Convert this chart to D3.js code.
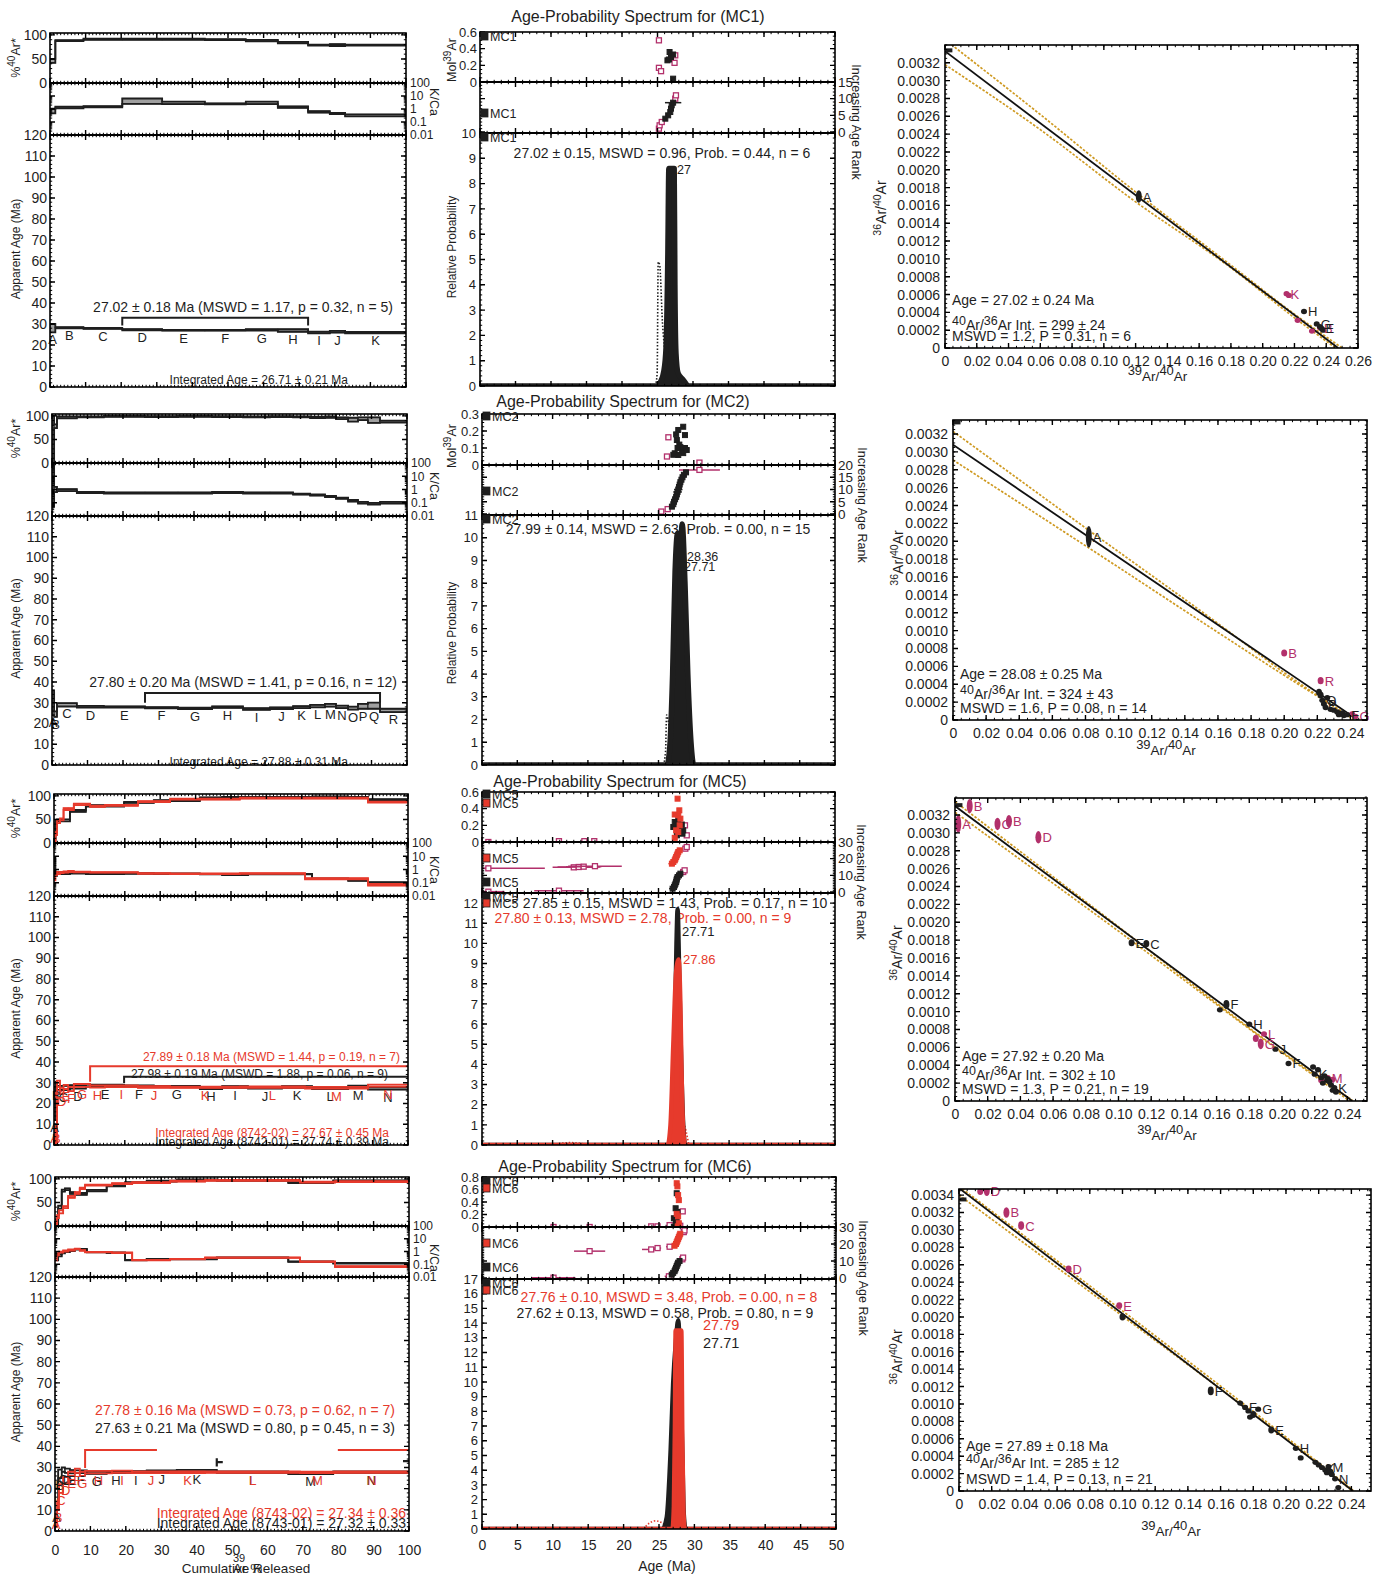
<!DOCTYPE html>
<html>
<head>
<meta charset="utf-8">
<title>40Ar/39Ar step-heating spectra, age-probability plots and inverse isochrons</title>
<script src="https://cdn.jsdelivr.net/npm/d3@7"></script>
<style>
  html, body { margin: 0; padding: 0; background: #fff; }
  svg { display: block; font-family: "Liberation Sans", Arial, Helvetica, sans-serif; }
</style>
</head>
<body>
<svg id="chart" width="1400" height="1580"></svg>
<script>
// ================= STEP-HEATING DATA (cumulative 39Ar %, apparent age, %40Ar*, K/Ca) =================
// MC1
const mc1Pct = [0, 1.5, 9.4, 20.3, 31.5, 43.5, 55, 64, 72.5, 78.6, 82.9, 100];
const mc1Steps = ["A","B","C","D","E","F","G","H","I","J","K"];
const mc1Age = [28.0, 28.2, 27.9, 27.3, 27.0, 27.0, 27.2, 26.9, 25.9, 26.3, 25.9];
const mc1AgeErr = [2.0, 0.3, 0.25, 0.3, 0.2, 0.2, 0.3, 0.6, 0.4, 0.4, 0.3];
const mc1Rad = [46, 88, 91, 91, 91, 90, 88, 84, 79, 79, 79];
const mc1RadErr = [4, 1, 1, 1, 1, 1, 1.5, 1.5, 1, 2, 1];
const mc1KCa = [0.7, 1.3, 1.5, 4, 3, 2.5, 3, 1.4, 0.6, 0.45, 0.32];
const mc1KCaErr = [1.5, 1.15, 1.1, 1.6, 1.25, 1.1, 1.25, 1.15, 1.15, 1.1, 1.2];
const mc1Plateau = [20.3, 72.5];
const mc1PlateauText = ["27.02 ± 0.18 Ma (MSWD = 1.17, p = 0.32, n = 5)"];
const mc1IntegratedText = ["Integrated Age = 26.71 ± 0.21 Ma"];

// MC2
const mc2Pct = [0, 0.6, 1.4, 7.0, 14.6, 26.2, 35.5, 45.1, 53.8, 61.4, 67.9, 72.7, 76.9, 80.0, 83.4, 86.2, 89.0, 92.4, 100];
const mc2Steps = ["A","B","C","D","E","F","G","H","I","J","K","L","M","N","O","P","Q","R"];
const mc2Age = [30, 24.5, 29.0, 28.1, 28.0, 27.6, 27.3, 27.9, 27.0, 27.4, 27.9, 28.4, 28.8, 28.0, 27.4, 28.3, 28.6, 26.3];
const mc2AgeErr = [6, 1.3, 0.8, 0.4, 0.3, 0.3, 0.3, 0.4, 0.4, 0.4, 0.5, 0.6, 0.7, 0.6, 0.7, 1.2, 1.5, 0.8];
const mc2Rad = [50, 78, 97, 98, 99, 98.5, 99, 98.5, 98, 98.5, 98, 97, 97.5, 95, 92, 94, 91, 88];
const mc2RadErr = [50, 4, 2, 1, 1, 1, 1, 1, 1, 1, 1, 1.5, 1.5, 2, 4, 3, 6, 2];
const mc2KCa = [5, 1.0, 0.9, 0.6, 0.55, 0.55, 0.55, 0.6, 0.55, 0.55, 0.45, 0.38, 0.3, 0.22, 0.14, 0.1, 0.085, 0.1];
const mc2KCaErr = [100, 1.6, 1.2, 1.1, 1.1, 1.1, 1.1, 1.1, 1.1, 1.1, 1.1, 1.1, 1.1, 1.1, 1.15, 1.15, 1.15, 1.15];
const mc2Plateau = [26.2, 92.4];
const mc2PlateauText = ["27.80 ± 0.20 Ma (MSWD = 1.41, p = 0.16, n = 12)"];
const mc2IntegratedText = ["Integrated Age = 27.88 ± 0.31 Ma"];

// MC5: aliquots 8742-01 and 8742-02
const mc5aPct = [0, 0.4, 0.85, 4.5, 9.0, 19.8, 28.2, 41.2, 47.5, 54.8, 64.4, 72.9, 83.1, 88.7, 100];
const mc5aSteps = ["A","B","C","D","E","F","G","H","I","J","K","L","M","N"];
const mc5aAge = [20, 29, 27.5, 28.0, 28.6, 28.3, 28.2, 27.4, 28.0, 27.6, 28.0, 27.3, 28.0, 27.2];
const mc5aAgeErr = [8, 1.5, 1, 0.8, 0.5, 0.4, 0.3, 0.4, 0.4, 0.4, 0.4, 0.4, 0.6, 0.5];
const mc5aRad = [5, 45, 48, 68, 79, 86, 90, 96, 97, 97, 97, 98, 97, 92];
const mc5aRadErr = [3, 3, 2, 2, 1.5, 1, 1, 1, 1, 1, 1, 1, 1, 1];
const mc5aKCa = [2, 0.4, 0.5, 0.55, 0.5, 0.5, 0.48, 0.45, 0.4, 0.45, 0.45, 0.2, 0.15, 0.1];
const mc5aKCaErr = [3, 1.2, 1.1, 1.1, 1.1, 1.05, 1.05, 1.05, 1.05, 1.05, 1.05, 1.05, 1.1, 1.1];
const mc5bPct = [0, 0.4, 0.85, 1.7, 2.7, 4.0, 5.6, 10.2, 14.4, 23.7, 32.8, 52.5, 70.9, 88.7, 100];
const mc5bSteps = ["A","B","C","D","E","F","G","H","I","J","K","L","M","N"];
const mc5bAge = [5, 2, 29.5, 26, 28, 27, 28.7, 28.2, 28.3, 28.0, 27.8, 27.9, 27.6, 28.6];
const mc5bAgeErr = [4, 2, 1.5, 1.5, 1, 1, 0.7, 0.5, 0.4, 0.4, 0.3, 0.3, 0.4, 0.5];
const mc5bRad = [2, 20, 45, 50, 72, 72, 82, 78, 80, 88, 93, 95, 95, 87];
const mc5bRadErr = [2, 3, 3, 2, 2, 2, 1.5, 1.5, 1, 1, 1, 1, 1, 1];
const mc5bKCa = [0.3, 0.5, 0.55, 0.6, 0.65, 0.7, 0.65, 0.6, 0.6, 0.5, 0.48, 0.5, 0.2, 0.07];
const mc5bKCaErr = [2, 1.3, 1.2, 1.1, 1.1, 1.1, 1.05, 1.05, 1.05, 1.05, 1.05, 1.05, 1.1, 1.15];
const mc5aPlateau = [19.8, 100];
const mc5bPlateau = [10.2, 100];
const mc5PlateauText = ["27.89 ± 0.18 Ma (MSWD = 1.44, p = 0.19, n = 7)", "27.98 ± 0.19 Ma (MSWD = 1.88, p = 0.06, n = 9)"];
const mc5IntegratedText = ["Integrated Age (8742-02) = 27.67 ± 0.45 Ma", "Integrated Age (8742-01) = 27.74 ± 0.39 Ma"];

// MC6: aliquots 8743-01 and 8743-02
const mc6aPct = [0, 0.9, 1.9, 2.8, 4.2, 5.6, 9.0, 14.6, 19.8, 25.9, 34.4, 45.7, 65.9, 78.6, 100];
const mc6aSteps = ["A","B","C","D","E","F","G","H","I","J","K","L","M","N"];
const mc6aAge = [15, 27, 29, 28.5, 28, 28, 27.5, 27.8, 27.9, 28.2, 28.5, 27.8, 27.2, 27.8];
const mc6aAgeErr = [5, 2, 1, 1, 0.8, 0.6, 0.5, 0.4, 0.4, 0.4, 0.4, 0.3, 0.3, 0.3];
const mc6aRad = [10, 40, 75, 78, 70, 68, 75, 85, 92, 95, 98, 97, 92, 96];
const mc6aRadErr = [4, 3, 2, 2, 2, 2, 1.5, 1, 1, 1, 1, 1, 1, 1];
const mc6aKCa = [0.3, 0.5, 0.8, 1.0, 1.2, 1.5, 0.9, 0.8, 0.21, 0.25, 0.25, 0.33, 0.16, 0.12];
const mc6aKCaErr = [1.5, 1.2, 1.1, 1.1, 1.1, 1.05, 1.05, 1.05, 1.05, 1.05, 1.05, 1.05, 1.05, 1.05];
const mc6bPct = [0, 0.6, 1.1, 2.3, 3.7, 5.6, 7.0, 8.5, 16.1, 21.8, 32.5, 42.4, 69.2, 79.1, 100];
const mc6bSteps = ["A","B","C","D","E","F","G","H","I","J","K","L","M","N"];
const mc6bAge = [5, 12, 20, 24, 27, 28.5, 27, 27.8, 28, 27.7, 27.8, 27.8, 27.7, 27.8];
const mc6bAgeErr = [3, 2, 2, 1.5, 1, 1, 1, 0.6, 0.5, 0.4, 0.4, 0.3, 0.3, 0.3];
const mc6bRad = [5, 20, 30, 40, 62, 70, 80, 87, 90, 92, 95, 97, 93, 94];
const mc6bRadErr = [3, 3, 3, 2, 2, 2, 1.5, 1, 1, 1, 1, 1, 1, 1];
const mc6bKCa = [0.3, 0.6, 0.9, 1.1, 1.3, 1.6, 1.2, 0.9, 0.8, 0.21, 0.25, 0.33, 0.16, 0.065];
const mc6bKCaErr = [1.5, 1.2, 1.1, 1.1, 1.1, 1.05, 1.05, 1.05, 1.05, 1.05, 1.05, 1.05, 1.05, 1.1];
const mc6aPlateau = [45.7, 100];
const mc6bPlateau = [8.5, 100];
const mc6PlateauText = ["27.78 ± 0.16 Ma (MSWD = 0.73, p = 0.62, n = 7)", "27.63 ± 0.21 Ma (MSWD = 0.80, p = 0.45, n = 3)"];
const mc6IntegratedText = ["Integrated Age (8743-02) = 27.34 ± 0.36", "Integrated Age (8743-01) = 27.32 ± 0.33"];

// ================= SINGLE-CRYSTAL FUSION DATA =================
// moles 39Ar: [age Ma, mol]; rank: [age Ma, rank, 1σ]; probability: [age Ma, relative probability]
const mc1Title = "Age-Probability Spectrum for (MC1)";
const mc1MolIn = [[26.4,0.26],[26.6,0.27],[26.7,0.36],[26.9,0.30],[27.2,0.33],[27.2,0.04]];
const mc1MolOut = [[25.2,0.50],[25.2,0.17],[25.5,0.13],[27.5,0.32],[27.4,0.23]];
const mc1RankIn = [[26.1,4,0.15],[26.5,5,0.15],[26.8,6,0.15],[26.9,7,0.2],[27.0,8,0.2],[27.2,8.8,1.15]];
const mc1RankOut = [[25.2,1,0.2],[25.3,2,0.2],[25.6,3,0.2],[27.5,10,0.2],[27.6,11,0.2]];
const mc1Prob = [[0,0],[24.9,0],[25.4,0.15],[25.9,0.6],[26.2,1.5],[26.45,5],[26.6,8.6],[27.0,8.6],[27.35,8.6],[27.45,4],[27.6,1.3],[27.9,0.5],[28.6,0.25],[29.4,0],[50,0]];
const mc1ProbAll = [[24.7,0],[24.95,0.5],[25.1,4.9],[25.3,4.8],[25.7,2.5],[26.2,1.0]];
const mc1StatText = ["27.02 ± 0.15, MSWD = 0.96, Prob. = 0.44, n = 6"];
const mc1PeakText = ["27"];

const mc2Title = "Age-Probability Spectrum for (MC2)";
const mc2MolIn = [[28.5,0.225],[27.8,0.206],[27.5,0.18],[28.75,0.176],[27.6,0.147],[27.95,0.12],[28.75,0.10],[28.3,0.088],[27.3,0.069],[27.8,0.059],[28.5,0.07],[29.0,0.088],[27.1,0.06],[28.1,0.105],[27.7,0.10]];
const mc2MolOut = [[26.4,0.163],[26.2,0.05],[30.8,0.014]];
const mc2RankIn = [[26.9,3,0.2],[27.1,4,0.2],[27.2,5,0.2],[27.35,6,0.2],[27.5,7,0.25],[27.6,8,0.25],[27.7,9,0.6],[27.8,10,0.6],[27.9,11,0.25],[28.0,12,0.25],[28.1,13,0.25],[28.25,14,0.25],[28.4,15,0.25],[28.6,16,0.25],[28.9,17,0.3]];
const mc2RankOut = [[25.4,1,0.4],[26.3,2,0.3],[30.8,18,2.9]];
const mc2Prob = [[0,0],[26.2,0],[26.6,0.8],[27.0,4],[27.35,8.5],[27.71,10.2],[28.0,8.8],[28.36,10.6],[28.75,8],[29.15,4],[29.6,1],[30.0,0],[50,0]];
const mc2ProbAll = [[25.7,0],[26.0,0.6],[26.15,2.2],[26.35,2.0],[26.7,1.2]];
const mc2StatText = ["27.99 ± 0.14, MSWD = 2.63, Prob. = 0.00, n = 15"];
const mc2PeakText = ["28.36", "27.71"];

const mc5Title = "Age-Probability Spectrum for (MC5)";
const mc5aMol = [[27.3,0.24],[27.5,0.18],[27.95,0.16],[28.3,0.21],[28.5,0.14],[27.1,0.18],[27.8,0.26],[28.1,0.12],[27.6,0.08],[28.4,0.10]];
const mc5bMol = [[27.7,0.52],[27.95,0.38],[27.3,0.33],[27.8,0.32],[28.1,0.28],[27.5,0.14],[27.8,0.12],[27.3,0.05],[28.0,0.20]];
const mc5MolOut = [[0.9,0.0],[10.9,0.01],[14.5,0.01],[15.9,0.01],[29.0,0.08],[28.75,0.2]];
const mc5aRank = [[27.0,2,0.5],[27.2,3,0.3],[27.3,4,0.3],[27.4,5,0.3],[27.5,6,0.3],[27.55,7,0.3],[27.6,8,0.3],[27.7,9,0.3],[27.9,10,0.3],[28.1,11,0.3]];
const mc5bRank = [[26.9,17,0.5],[27.1,18,0.3],[27.3,19,0.3],[27.4,20,0.3],[27.5,21,0.3],[27.6,22,0.3],[27.7,23,0.3],[27.8,24,0.3],[28.0,25,0.3]];
const mc5RankOut = [[0.9,0.2,2.3],[10.9,0.8,3.5],[28.5,12,0.3],[28.7,13,0.3],[0.9,14.2,8],[13.0,14.8,3.0],[13.7,15.0,3.0],[14.4,15.2,2.5],[16.0,15.5,3.8],[28.8,26,0.3],[29.0,27,0.3]];
const mc5aProb = [[0,0],[26.6,0],[27.0,1],[27.3,5],[27.55,10],[27.71,11.7],[27.9,9],[28.15,5],[28.5,1],[28.8,0],[50,0]];
const mc5bProb = [[0,0],[26.3,0],[26.7,1],[27.1,5],[27.5,8.6],[27.86,9.2],[28.1,7],[28.3,3],[28.55,0.5],[28.8,0],[50,0]];
const mc5bProbAll = [[9.5,0],[11,0.08],[12.5,0.12],[14,0.08],[15.5,0]];
const mc5bProbAll2 = [[28.6,1.1],[28.9,0.7],[29.3,0]];
const mc5StatText = ["27.85 ± 0.15, MSWD = 1.43, Prob. = 0.17, n = 10", "27.80 ± 0.13, MSWD = 2.78, Prob. = 0.00, n = 9"];
const mc5PeakText = ["27.71", "27.86"];

const mc6Title = "Age-Probability Spectrum for (MC6)";
const mc6aMol = [[27.5,0.54],[27.35,0.30],[27.1,0.14],[27.5,0.09],[27.35,0.04],[27.1,0.0],[27.6,0.24],[27.4,0.11],[27.55,0.02]];
const mc6bMol = [[27.5,0.70],[27.6,0.65],[27.7,0.51],[27.8,0.43],[27.5,0.21],[27.7,0.17],[27.8,0.06],[27.65,0.01]];
const mc6MolOut = [[10.1,0.0],[15.2,0.0],[23.9,0.01],[24.8,0.01],[26.5,0.03],[28.0,0.02],[28.35,0.25]];
const mc6aRank = [[26.8,2,0.4],[27.0,3,0.3],[27.2,4,0.3],[27.3,5,0.3],[27.4,6,0.3],[27.5,7,0.3],[27.6,8,0.3],[27.7,9,0.3],[27.9,10,0.3]];
const mc6bRank = [[27.2,19,0.3],[27.4,20,0.3],[27.5,21,0.3],[27.6,22,0.3],[27.7,23,0.3],[27.8,24,0.3],[27.9,25,0.3],[28.0,26,0.3]];
const mc6RankOut = [[10.1,0.2,3.1],[26.4,1,0.6],[28.3,11,0.3],[28.4,12,0.3],[15.2,15.8,2.2],[23.9,16.8,1.3],[24.8,17.6,0.5],[26.5,18.4,0.5],[28.5,27,0.3],[28.6,28,0.3]];
const mc6aProb = [[0,0],[25.5,0],[26.1,0.8],[26.65,5.4],[27.0,9.9],[27.4,12.8],[27.71,14.2],[28.0,11],[28.3,5],[28.5,1],[28.75,0],[50,0]];
const mc6bProb = [[0,0],[26.9,0],[27.1,1.5],[27.25,7],[27.35,13.5],[27.79,13.5],[28.15,13.5],[28.3,6],[28.45,1.2],[28.65,0],[50,0]];
const mc6bProbAll = [[22.8,0],[23.5,0.35],[24.5,0.55],[25.5,0.4],[26.3,0]];
const mc6StatText = ["27.76 ± 0.10, MSWD = 3.48, Prob. = 0.00, n = 8", "27.62 ± 0.13, MSWD = 0.58, Prob. = 0.80, n = 9"];
const mc6PeakText = ["27.79", "27.71"];

// ================= INVERSE ISOCHRON DATA: [39Ar/40Ar, 36Ar/40Ar, 1σ 36/40, step] =================
const mc1IsoIn = [[0.122,0.00170,0.00007,"A"],[0.226,0.00041,0.00003,"H"],[0.234,0.00027,0.00002,"G"],[0.236,0.00024,0.00002,""],[0.237,0.00022,0.00002,"E"],[0.238,0.00020,0.00002,""]];
const mc1IsoOut = [[0.215,0.00061,0.00003,"K"],[0.2165,0.00059,0.00002,""],[0.222,0.00031,0.00002,""],[0.231,0.00019,0.00003,""],[0.236,0.00023,0.00002,"B"]];
const mc1IsoFit = [[0,0.00333],[0.2475,0]];
const mc1IsoEnvHi = [[0,0.00346],[0.06,0.00262],[0.12,0.00175],[0.18,0.00093],[0.22,0.00038],[0.25,0]];
const mc1IsoEnvLo = [[0,0.00318],[0.06,0.00245],[0.12,0.00164],[0.18,0.0009],[0.22,0.00034],[0.2475,-0.00002]];
const mc1IsoAtm = [0.0015, 0.00334];
const mc1IsoText = ["Age =  27.02 ± 0.24 Ma", "299 ± 24", "MSWD = 1.2,  P = 0.31, n = 6"];

const mc2IsoIn = [[0.082,0.00205,0.00012,"A"],[0.221,0.00031,0.00004,""],[0.222,0.00028,0.00004,""],[0.223,0.00022,0.00003,"O"],[0.224,0.00018,0.00003,"P"],[0.225,0.00014,0.00003,""],[0.226,0.00025,0.00003,""],[0.228,0.00012,0.00002,""],[0.230,0.00011,0.00002,""],[0.232,0.00009,0.00002,""],[0.233,0.00006,0.00002,""],[0.235,0.00008,0.00002,""],[0.236,0.00005,0.00002,""],[0.238,0.00006,0.00002,"F"]];
const mc2IsoOut = [[0.2,0.00075,0.00004,"B"],[0.222,0.00044,0.00004,"R"],[0.241,0.00007,0.00002,""],[0.243,0.00004,0.00002,"G"]];
const mc2IsoFit = [[0,0.00308],[0.2445,0]];
const mc2IsoEnvHi = [[0,0.00323],[0.08,0.00215],[0.16,0.00108],[0.2,0.00053],[0.24,0.00003]];
const mc2IsoEnvLo = [[0,0.00291],[0.08,0.00195],[0.16,0.00098],[0.2,0.0005],[0.245,-0.00002]];
const mc2IsoAtm = [0.0015, 0.00333];
const mc2IsoText = ["Age =  28.08 ± 0.25 Ma", "324 ± 43", "MSWD = 1.6,  P = 0.08, n = 14"];

const mc5IsoIn = [[0.108,0.00177,0.00004,"E"],[0.117,0.00176,0.00004,"C"],[0.162,0.00102,0.00003,""],[0.166,0.00108,0.00005,"F"],[0.18,0.00086,0.00003,"H"],[0.196,0.00058,0.00003,"J"],[0.204,0.00042,0.00003,"F"],[0.219,0.00038,0.00003,""],[0.22,0.0003,0.00003,"K"],[0.222,0.00035,0.00003,""],[0.224,0.00026,0.00002,""],[0.225,0.0002,0.00002,""],[0.226,0.00028,0.00003,""],[0.228,0.00025,0.00003,""],[0.229,0.00022,0.00002,""],[0.23,0.00018,0.00002,""],[0.231,0.00012,0.00002,""],[0.232,0.00015,0.00002,"K"],[0.233,0.0001,0.00002,""]];
const mc5IsoOut = [[0.002,0.0031,0.0001,"A"],[0.009,0.0033,0.00008,"B"],[0.026,0.0031,0.00007,"C"],[0.033,0.00313,0.00007,"B"],[0.051,0.00295,0.00007,"D"],[0.184,0.0007,0.00004,""],[0.187,0.00064,0.00006,"G"],[0.189,0.00075,0.00003,"L"],[0.224,0.00023,0.00003,""],[0.228,0.00026,0.00003,"M"],[0.231,0.00024,0.00003,""]];
const mc5IsoFit = [[0,0.0033],[0.243,0]];
const mc5IsoEnvHi = [[0,0.00335],[0.1,0.00195],[0.2,0.00055],[0.243,0.00001]];
const mc5IsoEnvLo = [[0,0.00323],[0.1,0.0019],[0.2,0.00054],[0.243,-0.00002]];
const mc5IsoAtm = [0.0015, 0.00331];
const mc5IsoText = ["Age =  27.92 ± 0.20 Ma", "302 ± 10", "MSWD = 1.3,  P = 0.21, n = 19"];

const mc6IsoIn = [[0.1,0.002,0.00004,""],[0.154,0.00115,0.00005,"F"],[0.172,0.00101,0.00003,""],[0.175,0.00096,0.00003,"F"],[0.177,0.00092,0.00003,""],[0.178,0.00085,0.00003,""],[0.18,0.00088,0.00004,""],[0.183,0.00094,0.00003,"G"],[0.191,0.0007,0.00004,"E"],[0.206,0.00049,0.00003,"H"],[0.209,0.00038,0.00003,""],[0.218,0.00033,0.00003,""],[0.22,0.0003,0.00002,""],[0.222,0.00027,0.00003,"K"],[0.224,0.00024,0.00003,""],[0.225,0.00021,0.00002,""],[0.226,0.00028,0.00003,"M"],[0.227,0.00023,0.00002,""],[0.228,0.00019,0.00002,""],[0.23,0.00014,0.00002,"N"],[0.232,0.00004,0.00002,""]];
const mc6IsoOut = [[0.013,0.00344,0.00004,""],[0.017,0.00345,0.00006,"D"],[0.029,0.0032,0.00006,"B"],[0.038,0.00305,0.00005,"C"],[0.067,0.00255,0.00004,"D"],[0.098,0.00213,0.00004,"E"]];
const mc6IsoFit = [[0,0.00348],[0.241,0]];
const mc6IsoEnvHi = [[0,0.0035],[0.1,0.00207],[0.2,0.00062],[0.241,0.00001]];
const mc6IsoEnvLo = [[0,0.0034],[0.1,0.00201],[0.2,0.0006],[0.242,-0.00002]];
const mc6IsoAtm = [0.0015, 0.00335];
const mc6IsoText = ["Age =  27.89 ± 0.18 Ma", "285 ± 12", "MSWD = 1.4,  P = 0.13, n = 21"];

// ================= STYLE & HELPERS =================
const INK = "#1e1e1e", RED = "#e63a2c", MAG = "#b2306b", GOLD = "#cf9a22";
const svg = d3.select("#chart");
const defs = svg.append("defs");
let clipCount = 0;
function clipRect(x, y, w, h) {
  const id = "clip" + (clipCount++);
  defs.append("clipPath").attr("id", id).append("rect")
    .attr("x", x).attr("y", y).attr("width", w).attr("height", h);
  return "url(#" + id + ")";
}
function addText(g, x, y, content, o = {}) {
  const t = g.append("text").attr("x", x).attr("y", y)
    .attr("font-size", o.size || 13)
    .attr("fill", o.fill || INK)
    .attr("text-anchor", o.anchor || "start");
  if (o.rot) t.attr("transform", "rotate(" + o.rot + "," + x + "," + y + ")");
  if (typeof content === "string") t.text(content);
  else content.forEach(p => {
    const s = t.append("tspan").text(p.t);
    if (p.dy) s.attr("dy", p.dy);
    if (p.size) s.attr("font-size", p.size);
  });
  return t;
}
const seq = (a, b, s) => d3.range(Math.round((b - a) / s) + 1).map(i => +(a + i * s).toFixed(8));
const logMinor = [0.01, 0.1, 1, 10].flatMap(d => d3.range(2, 10).map(m => d * m));

function tickPath(g, segs, w) {
  g.append("path").attr("d", segs.map(p => "M" + p[0] + "," + p[1] + "L" + p[2] + "," + p[3]).join(""))
    .attr("stroke", "#000").attr("stroke-width", w).attr("fill", "none");
}
function xTicks(g, sc, vals, yTop, yBot, len, w) {
  const s = [];
  vals.forEach(v => { const X = sc(v); s.push([X, yTop, X, yTop + len]); s.push([X, yBot, X, yBot - len]); });
  tickPath(g, s, w);
}
function yTicks(g, sc, vals, xL, xR, len, w) {
  const s = [];
  vals.forEach(v => { const Y = sc(v); s.push([xL, Y, xL + len, Y]); s.push([xR, Y, xR - len, Y]); });
  tickPath(g, s, w);
}
function axisText(g, axis, tx, ty, size) {
  const a = g.append("g").attr("transform", "translate(" + tx + "," + ty + ")").call(axis);
  a.attr("font-family", null).attr("font-size", null);
  a.select(".domain").remove();
  a.selectAll(".tick line").remove();
  a.selectAll("text").attr("font-size", size).attr("fill", INK);
  return a;
}
function frameRect(g, x0, x1, y0, y1, w) {
  g.append("rect").attr("x", x0).attr("y", y0).attr("width", x1 - x0).attr("height", y1 - y0)
    .attr("fill", "none").attr("stroke", "#000").attr("stroke-width", w || 1.6);
}
function hLine(g, x0, x1, y, w) {
  g.append("line").attr("x1", x0).attr("x2", x1).attr("y1", y).attr("y2", y).attr("stroke", "#000").attr("stroke-width", w);
}

// ================= STEP-HEATING SPECTRA =================
function stepBoxes(g, x, y, pct, val, err, isLog, color, fill) {
  const lo = val.map((v, i) => isLog ? v / err[i] : Math.max(0, v - err[i]));
  const hi = val.map((v, i) => isLog ? v * err[i] : v + err[i]);
  g.selectAll(null).data(val).join("rect")
    .attr("x", (d, i) => x(pct[i]))
    .attr("width", (d, i) => x(pct[i + 1]) - x(pct[i]))
    .attr("y", (d, i) => y(hi[i]))
    .attr("height", (d, i) => Math.max(0.5, y(lo[i]) - y(hi[i])))
    .attr("fill", fill).attr("stroke", color).attr("stroke-width", 1);
  const edge = arr => d3.line()(arr.flatMap((v, i) => [[x(pct[i]), y(v)], [x(pct[i + 1]), y(v)]]));
  [hi, lo].forEach(arr => g.append("path").attr("d", edge(arr))
    .attr("fill", "none").attr("stroke", color).attr("stroke-width", 1.8));
}

function drawStepHeating(lay, series, notes) {
  const g = svg.append("g");
  const x = d3.scaleLinear().domain([0, 100]).range([lay.x0, lay.x1]);
  const yRad = d3.scaleLinear().domain([0, 104]).range([lay.arBot, lay.arTop]);
  const yK = d3.scaleLog().domain([0.01, 100]).range([lay.kBot, lay.arBot]);
  const yAge = d3.scaleLinear().domain([0, 120]).range([lay.aBot, lay.kBot]);
  const W = lay.x1 - lay.x0;
  const gR = g.append("g").attr("clip-path", clipRect(lay.x0, lay.arTop, W, lay.arBot - lay.arTop));
  const gK = g.append("g").attr("clip-path", clipRect(lay.x0, lay.arBot, W, lay.kBot - lay.arBot));
  const gA = g.append("g").attr("clip-path", clipRect(lay.x0, lay.kBot, W, lay.aBot - lay.kBot));
  series.forEach(s => {
    stepBoxes(gR, x, yRad, s.pct, s.rad, s.radErr, false, s.color, s.fill);
    stepBoxes(gK, x, yK, s.pct, s.kca, s.kcaErr, true, s.color, s.fill);
    stepBoxes(gA, x, yAge, s.pct, s.age, s.ageErr, false, s.color, s.fill);
  });
  // step letters under each age box
  series.forEach(s => {
    s.steps.forEach((L, i) => {
      const cx = (x(s.pct[i]) + x(s.pct[i + 1])) / 2;
      const cy = Math.min(yAge(s.age[i] - s.ageErr[i]) + 12, lay.aBot - 2);
      addText(g, cx, cy, L, { anchor: "middle", size: 13, fill: s.color });
    });
  });
  // plateau brackets
  notes.brackets.forEach(b => {
    const yA = yAge(b.at), yD = yAge(b.drop);
    if (b.stubs) {
      const xa = x(b.range[0]), xb = x(b.range[1]);
      g.append("path").attr("d", "M" + xa + "," + (yA - 4) + "V" + yD + "M" + xa + "," + yA + "H" + (xa + 6) +
        "M" + (xb - 6) + "," + (yA - 1) + "H" + xb)
        .attr("stroke", b.color).attr("stroke-width", 2.2).attr("fill", "none");
      return;
    }
    let d = "M" + x(b.range[0]) + "," + yD + "V" + yA;
    if (b.gap) d += "H" + x(b.gap[0]) + "M" + x(b.gap[1]) + "," + yA + "H" + x(b.range[1]);
    else d += "H" + x(b.range[1]);
    if (b.range[1] < 100) d += "V" + yD;
    g.append("path").attr("d", d).attr("stroke", b.color).attr("stroke-width", 2).attr("fill", "none");
  });
  notes.texts.forEach(t => addText(g, t.x, t.y, t.text, { anchor: "end", size: t.size, fill: t.color }));

  // frame and ticks
  const fr = g.append("g");
  frameRect(fr, lay.x0, lay.x1, lay.arTop, lay.aBot, 1.6);
  hLine(fr, lay.x0, lay.x1, lay.arBot, 1.8);
  hLine(fr, lay.x0, lay.x1, lay.kBot, 1.8);
  [[lay.arTop, lay.arBot], [lay.arBot, lay.kBot], [lay.kBot, lay.aBot]].forEach(([t, b]) => {
    xTicks(fr, x, seq(0, 100, 1), t, b, 2.2, 1);
    xTicks(fr, x, seq(0, 100, 10), t, b, 5, 1.4);
  });
  yTicks(fr, yAge, seq(0, 120, 2), lay.x0, lay.x1, 2.2, 1);
  yTicks(fr, yAge, seq(0, 120, 10), lay.x0, lay.x1, 5, 1.4);
  yTicks(fr, yRad, seq(0, 100, 10), lay.x0, lay.x1, 2.2, 1);
  yTicks(fr, yRad, [0, 50, 100], lay.x0, lay.x1, 5, 1.4);
  yTicks(fr, yK, logMinor, lay.x0, lay.x1, 2.2, 1);
  yTicks(fr, yK, [0.01, 0.1, 1, 10, 100], lay.x0, lay.x1, 5, 1.4);

  axisText(g, d3.axisLeft(yAge).tickValues(seq(0, 120, 10)).tickSize(0).tickPadding(3), lay.x0, 0, 14);
  axisText(g, d3.axisLeft(yRad).tickValues([0, 50, 100]).tickSize(0).tickPadding(3), lay.x0, 0, 14);
  axisText(g, d3.axisRight(yK).tickValues([0.01, 0.1, 1, 10, 100]).tickFormat(d => String(d)).tickSize(0).tickPadding(4), lay.x1, 0, 12);
  if (lay.xAxis) {
    axisText(g, d3.axisBottom(x).tickValues(seq(0, 100, 10)).tickSize(0).tickPadding(14), 0, lay.aBot, 14);
    addText(g, 246, 1573, "Cumulative Released", { anchor: "middle", size: 13.5 });
    addText(g, 233, 1562, "39", { size: 11 });
    addText(g, 233, 1573, "Ar %", { size: 13.5 });
  }
  addText(g, 20, (lay.arTop + lay.arBot) / 2, [{ t: "%" }, { t: "40", dy: -5, size: 10 }, { t: "Ar*", dy: 5 }], { rot: -90, anchor: "middle", size: 12.5 });
  addText(g, 20, (lay.kBot + lay.aBot) / 2 - 12, "Apparent Age (Ma)", { rot: -90, anchor: "middle", size: 12 });
  addText(g, 430, lay.kcaY, "K/Ca", { rot: 90, anchor: "middle", size: 12.5 });
}

// ================= AGE-PROBABILITY SPECTRA =================
function marker(g, cx, cy, style) {
  g.append("rect").attr("x", cx - 2.5).attr("y", cy - 2.5).attr("width", 5).attr("height", 5)
    .attr("fill", style.fill).attr("stroke", style.stroke).attr("stroke-width", style.sw || 1);
}
const STY = {
  ink: { fill: INK, stroke: INK, bar: INK },
  red: { fill: RED, stroke: RED, bar: RED },
  out: { fill: "#fff", stroke: MAG, sw: 1.3, bar: MAG }
};

function drawProbability(lay, d) {
  const g = svg.append("g");
  const x = d3.scaleLinear().domain([0, 50]).range([lay.x0, lay.x1]);
  const yM = d3.scaleLinear().domain([0, lay.molMax]).range([lay.m0, lay.mTop]);
  const yR = d3.scaleLinear().domain([0, lay.rankMax]).range([lay.rBot - 1, lay.m0]);
  const yP = d3.scaleLinear().domain([0, lay.pMax]).range([lay.pBot, lay.rBot]);
  const W = lay.x1 - lay.x0;

  addText(g, lay.titleX, lay.titleY, d.title, { anchor: "middle", size: 16 });
  d.stats.forEach((s, i) => addText(g, lay.stats[i][0], lay.stats[i][1], s, { anchor: "middle", size: 14, fill: lay.statColors[i] }));
  d.peaks.forEach((s, i) => addText(g, lay.peaks[i][0], lay.peaks[i][1], s, { size: lay.peakSize, fill: lay.peakColors[i] }));

  const gP = g.append("g").attr("clip-path", clipRect(lay.x0, lay.rBot, W, lay.pBot - lay.rBot));
  const line = d3.line().x(p => x(p[0])).y(p => yP(p[1])).curve(d3.curveMonotoneX);
  const area = d3.area().x(p => x(p[0])).y0(yP(0)).y1(p => yP(p[1])).curve(d3.curveMonotoneX);
  d.dotted.forEach((c, i) => gP.append("path").attr("d", line(c))
    .attr("fill", "none").attr("stroke", lay.dotColors[i]).attr("stroke-width", 1.6).attr("stroke-dasharray", "1.5,1.8"));
  d.curves.forEach((c, i) => {
    gP.append("path").attr("d", area(c)).attr("fill", lay.curveColors[i]);
    gP.append("path").attr("d", line(c)).attr("fill", "none").attr("stroke", lay.curveColors[i])
      .attr("stroke-width", lay.curveWidth).attr("stroke-linejoin", "round");
  });

  const gM = g.append("g").attr("clip-path", clipRect(lay.x0, lay.mTop - 3, W, lay.m0 - lay.mTop + 3));
  const gRk = g.append("g").attr("clip-path", clipRect(lay.x0, lay.m0, W, lay.rBot - lay.m0));
  d.mol.forEach(set => set.pts.forEach(p => marker(gM, x(p[0]), yM(p[1]), STY[set.style])));
  d.rank.forEach(set => set.pts.forEach(p => {
    gRk.append("line").attr("x1", x(Math.max(0, p[0] - p[2]))).attr("x2", x(p[0] + p[2]))
      .attr("y1", yR(p[1])).attr("y2", yR(p[1])).attr("stroke", STY[set.style].bar).attr("stroke-width", 1.5);
    marker(gRk, x(p[0]), yR(p[1]), STY[set.style]);
  }));

  // frame and ticks
  const fr = g.append("g");
  frameRect(fr, lay.x0, lay.x1, lay.mTop, lay.pBot, 1.6);
  hLine(fr, lay.x0, lay.x1, lay.m0, 2);
  hLine(fr, lay.x0, lay.x1, lay.rBot, 2);
  [[lay.mTop, lay.m0], [lay.m0, lay.rBot], [lay.rBot, lay.pBot]].forEach(([t, b]) => {
    xTicks(fr, x, seq(0, 50, 1), t, b, 2.2, 1);
    xTicks(fr, x, seq(0, 50, 5), t, b, 5, 1.4);
  });
  yTicks(fr, yM, seq(0, lay.molMax, lay.molStep / 4), lay.x0, lay.x1, 2.2, 1);
  yTicks(fr, yM, seq(0, lay.molMax, lay.molStep), lay.x0, lay.x1, 5, 1.4);
  yTicks(fr, yR, seq(0, lay.rankMax, 1), lay.x0, lay.x1, 2.2, 1);
  yTicks(fr, yR, seq(0, lay.rankMax, lay.rankStep), lay.x0, lay.x1, 5, 1.4);
  yTicks(fr, yP, seq(0, Math.floor(lay.pMax), lay.pMinor), lay.x0, lay.x1, 2.2, 1);
  yTicks(fr, yP, seq(0, Math.floor(lay.pMax), 1), lay.x0, lay.x1, 5, 1.4);

  axisText(g, d3.axisLeft(yM).tickValues(seq(0, lay.molMax, lay.molStep)).tickFormat(v => v === 0 ? "0" : v.toFixed(1)).tickSize(0).tickPadding(3), lay.x0, 0, 13);
  axisText(g, d3.axisRight(yR).tickValues(seq(0, lay.rankMax, lay.rankStep)).tickSize(0).tickPadding(3), lay.x1, 0, 13.5);
  axisText(g, d3.axisLeft(yP).tickValues(seq(0, Math.floor(lay.pMax), 1)).tickSize(0).tickPadding(4), lay.x0, 0, 13);
  if (lay.xAxis) {
    axisText(g, d3.axisBottom(x).tickValues(seq(0, 50, 5)).tickSize(0).tickPadding(11), 0, lay.pBot, 14);
    addText(g, (lay.x0 + lay.x1) / 2 + 8, 1571, "Age (Ma)", { anchor: "middle", size: 14 });
  }

  // sample legends
  lay.legend.forEach(([ly, col]) => {
    g.append("rect").attr("x", lay.x0 + 1).attr("y", ly - 4).attr("width", 7).attr("height", 8)
      .attr("fill", col).attr("stroke", INK).attr("stroke-width", 0.8);
    addText(g, lay.x0 + 10, ly + 4.5, d.name, { size: 12.5 });
  });

  if (lay.molTitle) addText(g, lay.molTitle[0], lay.molTitle[1], [{ t: "Mol" }, { t: "39", dy: -5, size: 10 }, { t: "Ar", dy: 5 }], { rot: -90, anchor: "middle", size: 12.5 });
  if (lay.probTitle) addText(g, lay.probTitle[0], lay.probTitle[1], "Relative Probability", { rot: -90, anchor: "middle", size: 12 });
  addText(g, lay.rankTitle[0], lay.rankTitle[1], "Increasing Age Rank", { rot: 90, anchor: "middle", size: 12.5 });
}

// ================= INVERSE ISOCHRONS =================
function drawIsochron(lay, d) {
  const g = svg.append("g");
  const x = d3.scaleLinear().domain([0, lay.xMax]).range([lay.x0, lay.x1]);
  const y = d3.scaleLinear().domain([0, lay.yMax]).range([lay.bot, lay.top]);
  const gc = g.append("g").attr("clip-path", clipRect(lay.x0, lay.top, lay.x1 - lay.x0, lay.bot - lay.top));
  const env = d3.line().x(p => x(p[0])).y(p => y(p[1])).curve(d3.curveMonotoneX);
  [d.envHi, d.envLo].forEach(e => gc.append("path").attr("d", env(e))
    .attr("fill", "none").attr("stroke", GOLD).attr("stroke-width", 1.7).attr("stroke-dasharray", "2.5,1.6"));
  gc.append("path").attr("d", d3.line().x(p => x(p[0])).y(p => y(p[1]))(d.fit))
    .attr("fill", "none").attr("stroke", "#111").attr("stroke-width", 1.8);

  const pts = d.out.map(p => ({ p, c: MAG })).concat(d.in.map(p => ({ p, c: INK })));
  gc.selectAll(null).data(pts).join("ellipse")
    .attr("cx", o => x(o.p[0])).attr("cy", o => y(o.p[1]))
    .attr("rx", 3).attr("ry", o => Math.max(2.6, y(0) - y(o.p[2])))
    .attr("fill", o => o.c);
  pts.filter(o => o.p[3]).forEach(o => addText(g, x(o.p[0]) + 4, y(o.p[1]) + 5, o.p[3], { size: 13, fill: o.c }));
  g.append("rect").attr("x", x(d.atm[0]) - 2).attr("y", y(d.atm[1]) - 2).attr("width", 7).attr("height", 4).attr("fill", INK);

  const fr = g.append("g");
  frameRect(fr, lay.x0, lay.x1, lay.top, lay.bot, 1.6);
  xTicks(fr, x, seq(0, lay.xMax - 0.0001, 0.005), lay.top, lay.bot, 2.2, 1);
  xTicks(fr, x, seq(0, lay.xLbl, 0.02), lay.top, lay.bot, 5, 1.4);
  yTicks(fr, y, seq(0, lay.yMax - 0.00001, 0.00005), lay.x0, lay.x1, 2.2, 1);
  yTicks(fr, y, seq(0, lay.yLbl, 0.0002), lay.x0, lay.x1, 5, 1.4);
  axisText(g, d3.axisLeft(y).tickValues(seq(0, lay.yLbl, 0.0002)).tickFormat(v => v === 0 ? "0" : v.toFixed(4)).tickSize(0).tickPadding(5), lay.x0, 0, 14);
  axisText(g, d3.axisBottom(x).tickValues(seq(0, lay.xLbl, 0.02)).tickFormat(v => v === 0 ? "0" : v.toFixed(2)).tickSize(0).tickPadding(8), 0, lay.bot, 14);

  addText(g, lay.yTitle[0], lay.yTitle[1], [{ t: "36", dy: -5, size: 10.5 }, { t: "Ar/", dy: 5 }, { t: "40", dy: -5, size: 10.5 }, { t: "Ar", dy: 5 }], { rot: -90, anchor: "middle", size: 14 });
  addText(g, (lay.x0 + lay.x1) / 2 + 6, lay.xTitleY, [{ t: "39", dy: -6, size: 13 }, { t: "Ar/", dy: 6 }, { t: "40", dy: -6, size: 13 }, { t: "Ar", dy: 6 }], { anchor: "middle", size: 13.5 });

  const tx = lay.x0 + 7;
  addText(g, tx, lay.statY[0], d.text[0], { size: 14 });
  addText(g, tx, lay.statY[1], [{ t: "40", dy: -5, size: 12.5 }, { t: "Ar/", dy: 5 }, { t: "36", dy: -5, size: 12.5 }, { t: "Ar Int. =  " + d.text[1], dy: 5 }], { size: 14 });
  addText(g, tx, lay.statY[2], d.text[2], { size: 14 });
}

// ================= LAYOUT =================
const LEFT = [
  { x0: 50, x1: 406, arTop: 33, arBot: 83, kBot: 135, aBot: 387, kcaY: 102 },
  { x0: 52, x1: 407, arTop: 414, arBot: 463, kBot: 516, aBot: 765, kcaY: 486 },
  { x0: 54, x1: 408, arTop: 794, arBot: 843, kBot: 896, aBot: 1145, kcaY: 870 },
  { x0: 55, x1: 409, arTop: 1177, arBot: 1226, kBot: 1277, aBot: 1531, kcaY: 1258, xAxis: true }
];
const MID = [
  { x0: 480, x1: 835, titleX: 638, titleY: 22, mTop: 32, m0: 82, rBot: 133, pBot: 386,
    molMax: 0.6, molStep: 0.2, rankMax: 15, rankStep: 5, pMax: 10, pMinor: 0.2,
    stats: [[662, 158]], statColors: [INK], peaks: [[677, 174]], peakColors: [INK], peakSize: 12.5,
    curveColors: [INK], dotColors: [INK], curveWidth: 5.5,
    molTitle: [456, 60], probTitle: [456, 247], rankTitle: [852, 122],
    legend: [[36, INK], [113, INK], [137, INK]] },
  { x0: 482, x1: 835, titleX: 623, titleY: 407, mTop: 414, m0: 465, rBot: 515, pBot: 765,
    molMax: 0.3, molStep: 0.1, rankMax: 20, rankStep: 5, pMax: 11, pMinor: 0.2,
    stats: [[658, 534]], statColors: [INK], peaks: [[687, 561], [684, 571]], peakColors: [INK, INK], peakSize: 12.5,
    curveColors: [INK], dotColors: [INK], curveWidth: 5.5,
    molTitle: [456, 446], probTitle: [456, 633], rankTitle: [858, 505],
    legend: [[416, INK], [491, INK], [519, INK]] },
  { x0: 482, x1: 835, titleX: 620, titleY: 787, mTop: 792, m0: 842, rBot: 893, pBot: 1145,
    molMax: 0.6, molStep: 0.2, rankMax: 30, rankStep: 10, pMax: 12.5, pMinor: 0.2,
    stats: [[675, 908], [643, 923]], statColors: [INK, RED], peaks: [[682, 936], [683, 964]], peakColors: [INK, RED], peakSize: 13,
    curveColors: [INK, RED], dotColors: [RED, RED], curveWidth: 4.5,
    rankTitle: [857, 882],
    legend: [[794, INK], [803, RED], [858, RED], [882, INK], [897, INK], [903, RED]] },
  { x0: 482, x1: 836, titleX: 625, titleY: 1172, mTop: 1177, m0: 1227, rBot: 1279, pBot: 1529,
    molMax: 0.8, molStep: 0.2, rankMax: 30, rankStep: 10, pMax: 17, pMinor: 0.5,
    stats: [[669, 1302], [665, 1318]], statColors: [RED, INK], peaks: [[703, 1330], [703, 1348]], peakColors: [RED, INK], peakSize: 14.5,
    curveColors: [INK, RED], dotColors: [RED], curveWidth: 4.5,
    rankTitle: [859, 1278], xAxis: true,
    legend: [[1181, INK], [1188, RED], [1243, RED], [1267, INK], [1283, INK], [1290, RED]] }
];
const RIGHT = [
  { x0: 945, x1: 1358, top: 45, bot: 348, xMax: 0.26, yMax: 0.0034, xLbl: 0.26, yLbl: 0.0032,
    yTitle: [886, 208], xTitleY: 381, statY: [305, 330, 341] },
  { x0: 953, x1: 1367, top: 420, bot: 720, xMax: 0.25, yMax: 0.003357, xLbl: 0.24, yLbl: 0.0032,
    yTitle: [903, 558], xTitleY: 755, statY: [679, 699, 713] },
  { x0: 955, x1: 1367, top: 798, bot: 1101, xMax: 0.252, yMax: 0.00339, xLbl: 0.24, yLbl: 0.0032,
    yTitle: [902, 953], xTitleY: 1140, statY: [1061, 1080, 1094] },
  { x0: 959, x1: 1371, top: 1189, bot: 1491, xMax: 0.252, yMax: 0.00347, xLbl: 0.24, yLbl: 0.0034,
    yTitle: [902, 1357], xTitleY: 1536, statY: [1451, 1468, 1484] }
];

// ================= DRAW =================
const GRAY = "#a0a0a0";
drawStepHeating(LEFT[0], [
  { pct: mc1Pct, steps: mc1Steps, age: mc1Age, ageErr: mc1AgeErr, rad: mc1Rad, radErr: mc1RadErr, kca: mc1KCa, kcaErr: mc1KCaErr, color: INK, fill: GRAY }
], {
  brackets: [{ range: mc1Plateau, at: 33, drop: 29.3, color: INK }],
  texts: [{ x: 393, y: 312, text: mc1PlateauText[0], size: 14, color: INK },
          { x: 348, y: 384, text: mc1IntegratedText[0], size: 12, color: INK }]
});
drawStepHeating(LEFT[1], [
  { pct: mc2Pct, steps: mc2Steps, age: mc2Age, ageErr: mc2AgeErr, rad: mc2Rad, radErr: mc2RadErr, kca: mc2KCa, kcaErr: mc2KCaErr, color: INK, fill: GRAY }
], {
  brackets: [{ range: mc2Plateau, at: 34.7, drop: 30, color: INK }],
  texts: [{ x: 397, y: 687, text: mc2PlateauText[0], size: 14, color: INK },
          { x: 348, y: 766, text: mc2IntegratedText[0], size: 12, color: INK }]
});
drawStepHeating(LEFT[2], [
  { pct: mc5aPct, steps: mc5aSteps, age: mc5aAge, ageErr: mc5aAgeErr, rad: mc5aRad, radErr: mc5aRadErr, kca: mc5aKCa, kcaErr: mc5aKCaErr, color: INK, fill: "none" },
  { pct: mc5bPct, steps: mc5bSteps, age: mc5bAge, ageErr: mc5bAgeErr, rad: mc5bRad, radErr: mc5bRadErr, kca: mc5bKCa, kcaErr: mc5bKCaErr, color: RED, fill: "none" }
], {
  brackets: [{ range: mc5bPlateau, at: 38, drop: 30.5, color: RED },
             { range: mc5aPlateau, at: 32.9, drop: 29.9, color: INK }],
  texts: [{ x: 400, y: 1061, text: mc5PlateauText[0], size: 12, color: RED },
          { x: 388, y: 1078, text: mc5PlateauText[1], size: 12, color: INK },
          { x: 389, y: 1137, text: mc5IntegratedText[0], size: 12, color: RED },
          { x: 389, y: 1146, text: mc5IntegratedText[1], size: 12, color: INK }]
});
drawStepHeating(LEFT[3], [
  { pct: mc6aPct, steps: mc6aSteps, age: mc6aAge, ageErr: mc6aAgeErr, rad: mc6aRad, radErr: mc6aRadErr, kca: mc6aKCa, kcaErr: mc6aKCaErr, color: INK, fill: "none" },
  { pct: mc6bPct, steps: mc6bSteps, age: mc6bAge, ageErr: mc6bAgeErr, rad: mc6bRad, radErr: mc6bRadErr, kca: mc6bKCa, kcaErr: mc6bKCaErr, color: RED, fill: "none" }
], {
  brackets: [{ range: mc6bPlateau, at: 38.3, drop: 29.8, color: RED, gap: [28.8, 79.9] },
             { range: mc6aPlateau, at: 32.5, drop: 30.5, color: INK, stubs: true }],
  texts: [{ x: 395, y: 1415, text: mc6PlateauText[0], size: 14, color: RED },
          { x: 395, y: 1433, text: mc6PlateauText[1], size: 14, color: INK },
          { x: 406, y: 1518, text: mc6IntegratedText[0], size: 14, color: RED },
          { x: 406, y: 1528, text: mc6IntegratedText[1], size: 14, color: INK }]
});

drawProbability(MID[0], {
  name: "MC1", title: mc1Title, stats: mc1StatText, peaks: mc1PeakText,
  curves: [mc1Prob], dotted: [mc1ProbAll],
  mol: [{ pts: mc1MolOut, style: "out" }, { pts: mc1MolIn, style: "ink" }],
  rank: [{ pts: mc1RankOut, style: "out" }, { pts: mc1RankIn, style: "ink" }]
});
drawProbability(MID[1], {
  name: "MC2", title: mc2Title, stats: mc2StatText, peaks: mc2PeakText,
  curves: [mc2Prob], dotted: [mc2ProbAll],
  mol: [{ pts: mc2MolOut, style: "out" }, { pts: mc2MolIn, style: "ink" }],
  rank: [{ pts: mc2RankOut, style: "out" }, { pts: mc2RankIn, style: "ink" }]
});
drawProbability(MID[2], {
  name: "MC5", title: mc5Title, stats: mc5StatText, peaks: mc5PeakText,
  curves: [mc5aProb, mc5bProb], dotted: [mc5bProbAll, mc5bProbAll2],
  mol: [{ pts: mc5MolOut, style: "out" }, { pts: mc5aMol, style: "ink" }, { pts: mc5bMol, style: "red" }],
  rank: [{ pts: mc5RankOut, style: "out" }, { pts: mc5aRank, style: "ink" }, { pts: mc5bRank, style: "red" }]
});
drawProbability(MID[3], {
  name: "MC6", title: mc6Title, stats: mc6StatText, peaks: mc6PeakText,
  curves: [mc6aProb, mc6bProb], dotted: [mc6bProbAll],
  mol: [{ pts: mc6MolOut, style: "out" }, { pts: mc6aMol, style: "ink" }, { pts: mc6bMol, style: "red" }],
  rank: [{ pts: mc6RankOut, style: "out" }, { pts: mc6aRank, style: "ink" }, { pts: mc6bRank, style: "red" }]
});

drawIsochron(RIGHT[0], { in: mc1IsoIn, out: mc1IsoOut, fit: mc1IsoFit, envHi: mc1IsoEnvHi, envLo: mc1IsoEnvLo, atm: mc1IsoAtm, text: mc1IsoText });
drawIsochron(RIGHT[1], { in: mc2IsoIn, out: mc2IsoOut, fit: mc2IsoFit, envHi: mc2IsoEnvHi, envLo: mc2IsoEnvLo, atm: mc2IsoAtm, text: mc2IsoText });
drawIsochron(RIGHT[2], { in: mc5IsoIn, out: mc5IsoOut, fit: mc5IsoFit, envHi: mc5IsoEnvHi, envLo: mc5IsoEnvLo, atm: mc5IsoAtm, text: mc5IsoText });
drawIsochron(RIGHT[3], { in: mc6IsoIn, out: mc6IsoOut, fit: mc6IsoFit, envHi: mc6IsoEnvHi, envLo: mc6IsoEnvLo, atm: mc6IsoAtm, text: mc6IsoText });
</script>
</body>
</html>
